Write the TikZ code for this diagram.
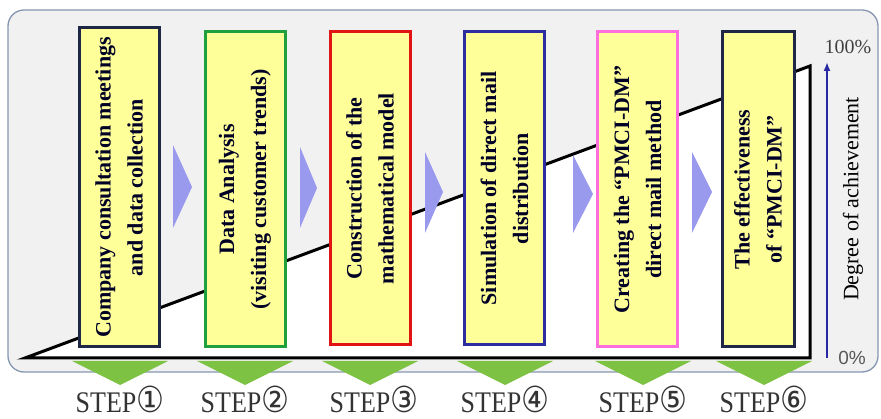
\documentclass[tikz,border=0pt]{standalone}
\usepackage{fontspec}
\setmainfont{Liberation Serif}
\setsansfont{Liberation Sans}
\newfontfamily\circfont{DejaVu Sans}
\usetikzlibrary{arrows.meta}

\definecolor{panelgray}{RGB}{241,241,241}
\definecolor{panelrim}{RGB}{133,150,176}
\definecolor{boxyellow}{RGB}{255,255,153}
\definecolor{chevblue}{RGB}{153,153,238}
\definecolor{leafgreen}{RGB}{125,194,66}
\definecolor{axisblue}{RGB}{40,40,165}
\definecolor{navyrim}{RGB}{30,40,70}
\definecolor{grassrim}{RGB}{30,160,60}
\definecolor{brickrim}{RGB}{225,20,20}
\definecolor{inkrim}{RGB}{45,45,160}
\definecolor{pinkrim}{RGB}{255,110,220}

\newcommand{\steptag}[1]{\scalebox{1}[1.15]{STEP\scalebox{1.2}{\circfont #1}}}

\tikzset{
	phasebox/.style={rectangle, rotate=90, fill=boxyellow, line width=3pt, minimum width=315pt, minimum height=80pt, inner sep=0pt, align=center, font=\fontsize{22}{32}\selectfont\bfseries, text=black!85!blue},
	chev/.style={fill=chevblue},
	downarrow/.style={fill=leafgreen},
	steplabel/.style={font=\fontsize{26}{26}\selectfont, text=black!80, inner sep=0pt}
}

\begin{document}
\begin{tikzpicture}[x=1pt,y=-1pt]
			\useasboundingbox (0,0) rectangle (881,419);
			
			\draw[panelrim, fill=panelgray, line width=1.3pt, rounded corners=16pt] (8,10) rectangle (878,372);
			
			\coordinate (origin) at (25,358);
			\coordinate (peak) at (810,66);
			\coordinate (corner) at (810,358);
			\draw[fill=white, line width=3pt, line join=miter] (origin) -- (peak) -- (corner) -- cycle;
			
			% chevrons between the steps
			\fill[chev] (173,145) -- (192,187) -- (173,228) -- cycle;
			\fill[chev] (300,147) -- (317,188) -- (300,228) -- cycle;
			\fill[chev] (425,152) -- (443,192) -- (425,233) -- cycle;
			\fill[chev] (573,155) -- (593,194) -- (573,233) -- cycle;
			\fill[chev] (692,152) -- (712,192) -- (692,233) -- cycle;
			
			\node[phasebox, draw=navyrim, minimum width=319pt] (s1) at (119,187.5) {Company consultation meetings\\and data collection};
			\node[phasebox, draw=grassrim] (s2) at (245,189.5) {Data Analysis\\(visiting customer trends)};
			\node[phasebox, draw=brickrim, minimum width=313pt] (s3) at (370,188.5) {Construction of the\\mathematical model};
			\node[phasebox, draw=inkrim, minimum width=313pt] (s4) at (504.5,188.5) {Simulation of direct mail\\distribution};
			\node[phasebox, draw=pinkrim] (s5) at (637.5,189.5) {Creating the ``PMCI-DM''\\direct mail method};
			\node[phasebox, draw=navyrim, minimum height=72pt] (s6) at (758,189.5) {The effectiveness\\of ``PMCI-DM''};
			
			% green arrows down to the labels
			\fill[downarrow] (72,361) -- (168,361) -- (120,385) -- cycle;
			\fill[downarrow] (197,361) -- (293,361) -- (245,385) -- cycle;
			\fill[downarrow] (322,361) -- (418,361) -- (370,385) -- cycle;
			\fill[downarrow] (457,361) -- (553,361) -- (505,385) -- cycle;
			\fill[downarrow] (595,361) -- (691,361) -- (643,385) -- cycle;
			\fill[downarrow] (716,361) -- (812,361) -- (764,385) -- cycle;
			
			\node[steplabel] (l1) at (120,399) {\steptag{①}};
			\node[steplabel] (l2) at (245,399) {\steptag{②}};
			\node[steplabel] (l3) at (374,399) {\steptag{③}};
			\node[steplabel] (l4) at (505,399) {\steptag{④}};
			\node[steplabel] (l5) at (643,399) {\steptag{⑤}};
			\node[steplabel] (l6) at (764,399) {\steptag{⑥}};
			
			% achievement axis
			\coordinate (zero) at (827,358);
			\coordinate (full) at (827,62);
			\draw[axisblue, line width=2pt, -{Latex[length=9pt,width=7pt]}] (zero) -- (full);
			\node[font=\fontsize{20}{20}\selectfont, text=black!75] (top) at (848,47) {100\%};
			\node[font=\sffamily\fontsize{19}{19}\selectfont, text=black!65] (bottom) at (852,358) {0\%};
			\node[rotate=90, font=\fontsize{22}{22}\selectfont] (degree) at (853,199) {Degree of achievement};
		\end{tikzpicture}
\end{document}
